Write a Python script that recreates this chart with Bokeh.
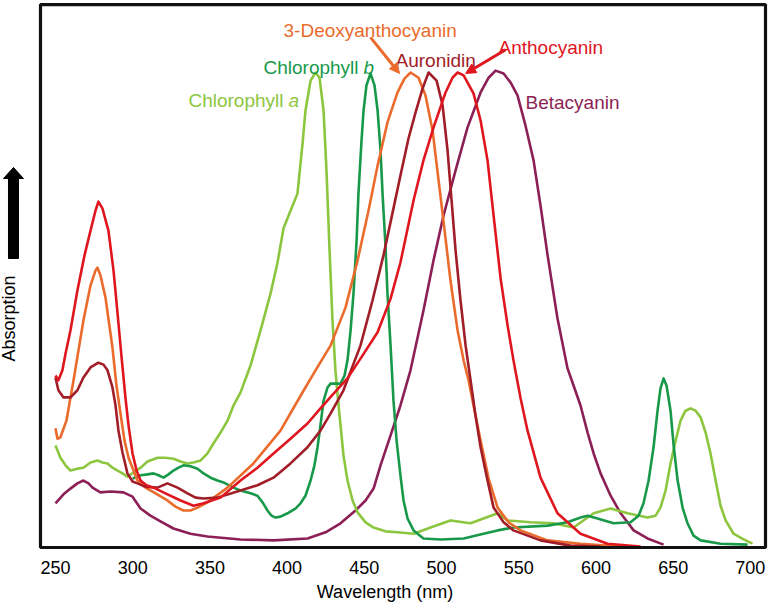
from bokeh.plotting import figure
from bokeh.models import Range1d, FixedTicker, Label, Arrow, NormalHead, BoxAnnotation
from bokeh.embed import file_html
from bokeh.resources import INLINE

# (wavelength nm, relative absorption; main peaks = 100)
CHL_A = [(250.0,21.5),(253.2,18.9),(256.5,17.3),(259.7,16.2),(264.2,16.6),(268.1,16.8),(272.7,17.9),(277.2,18.3),
         (280.4,17.9),(283.7,17.7),(286.9,16.8),(290.2,16.2),(293.4,15.6),(296.6,14.9),(300.5,15.8),(305.1,16.8),
         (309.6,18.1),(316.1,18.9),(321.2,18.9),(326.4,18.7),(331.0,18.1),(335.5,17.7),(339.4,17.9),(343.9,18.3),
         (348.4,19.8),(352.3,21.9),(356.9,24.2),(361.4,26.7),(365.3,29.9),(369.8,32.6),(376.3,38.3),(382.8,45.7),
         (389.3,53.5),(393.8,60.0),(397.7,67.2),(402.2,70.9),(406.7,74.5),(410.0,85.1),(411.9,92.0),(415.2,98.3),
         (418.4,100.0),(421.0,98.9),(423.6,92.0),(425.5,79.4),(427.5,62.5),(429.4,47.8),(431.3,37.3),(432.6,32.4),
         (434.6,25.7),(436.5,19.4),(439.1,14.1),(442.4,9.9),(445.6,7.4),(450.8,5.3),(456.0,4.2),(463.7,3.4),
         (471.5,3.2),(481.9,2.9),(492.9,4.2),(505.8,5.7),(518.8,5.1),(527.2,6.1),(536.3,7.2),(542.8,5.7),
         (557.7,5.3),(572.5,5.1),(585.5,4.2),(598.5,7.2),(609.5,8.2),(620.5,7.2),(633.4,6.3),(638.6,6.7),
         (641.8,8.4),(645.1,12.0),(648.3,17.7),(651.6,22.5),(654.8,26.7),(658.0,28.8),(661.3,29.3),(664.5,28.8),
         (667.8,27.4),(671.0,24.2),(674.2,19.8),(677.5,14.1),(680.7,8.8),(684.0,5.7),(689.1,2.9),(695.6,1.7),
         (701.4,0.8)]

CHL_B = [(299.9,14.5),(305.1,15.2),(309.6,15.4),(313.5,15.6),(316.7,15.2),(320.0,14.7),(323.2,15.4),(326.4,16.2),
         (329.7,16.8),(332.9,17.3),(337.4,17.1),(342.0,16.6),(345.9,15.6),(350.4,14.7),(354.9,14.1),(358.8,13.7),
         (365.3,12.6),(369.8,12.0),(376.3,11.4),(380.8,10.9),(384.1,9.5),(387.3,7.8),(389.9,6.7),(392.5,6.3),
         (395.7,6.5),(400.3,7.2),(405.4,8.2),(408.7,9.3),(411.9,10.9),(415.2,14.1),(417.7,17.3),(419.7,21.1),
         (421.6,25.7),(423.6,30.9),(426.2,33.7),(428.1,34.5),(431.3,34.5),(434.6,34.5),(437.2,36.2),(439.1,39.4),
         (441.1,45.7),(443.0,53.5),(445.0,64.6),(446.2,74.5),(448.2,85.7),(449.5,92.0),(451.4,97.3),(454.0,99.8),
         (456.6,97.3),(458.6,92.0),(460.5,83.6),(461.8,74.5),(463.7,63.6),(465.0,53.5),(467.0,42.5),(468.9,30.9),
         (470.9,22.5),(473.4,15.2),(475.4,9.9),(478.0,6.1),(481.9,3.6),(488.3,1.9),(499.4,1.7),(514.3,1.9),
         (527.2,2.9),(536.3,3.6),(546.6,4.2),(568.7,4.6),(581.6,5.3),(590.0,6.3),(594.6,6.7),(601.0,6.1),
         (611.4,5.1),(622.4,5.3),(627.6,6.7),(630.8,9.3),(634.1,14.1),(637.3,21.1),(639.9,28.8),(641.8,33.5),
         (643.8,35.6),(645.7,34.1),(648.3,28.8),(650.3,21.5),(652.9,14.1),(656.1,8.4),(659.3,5.1),(663.2,2.5),
         (667.8,1.5),(680.7,0.8),(698.2,0.6)]

DEOXY = [(250.0,25.1),(251.3,22.9),(253.2,23.2),(257.1,26.7),(261.7,35.2),(264.9,41.5),(268.1,47.8),(272.7,55.2),
         (275.9,58.3),(277.2,58.9),(279.1,57.3),(282.4,52.6),(286.9,42.1),(289.5,34.1),(292.1,28.2),(294.7,22.5),
         (297.3,18.9),(303.1,14.1),(308.3,12.6),(314.8,11.4),(322.5,9.9),(327.7,8.6),(332.9,7.8),(337.4,7.8),
         (342.0,8.4),(348.4,9.5),(361.4,12.6),(378.2,17.7),(395.7,24.6),(410.6,33.0),(418.4,37.3),(428.1,42.5),
         (437.8,50.5),(445.6,60.4),(452.7,70.9),(458.6,80.4),(465.0,89.5),(471.5,95.8),(476.0,98.7),(480.0,100.0),
         (485.1,98.9),(489.6,95.2),(494.2,87.8),(498.1,77.3),(502.0,66.7),(505.8,56.2),(510.4,45.7),(514.3,39.4),
         (517.5,35.2),(521.4,28.8),(525.3,22.5),(530.5,14.5),(536.3,8.4),(543.4,5.3),(551.2,3.6),(568.7,1.5),
         (590.0,0.8),(616.0,0.2)]

AURONIDIN = [(250.0,35.8),(251.9,33.1),(255.2,31.6),(259.7,31.6),(264.2,33.1),(268.1,35.8),(272.7,37.9),(277.8,38.9),
             (281.1,38.5),(283.7,37.3),(286.9,33.7),(288.9,29.9),(290.8,24.6),(293.4,20.0),(296.6,15.6),(299.9,13.9),
             (303.1,13.5),(308.3,12.8),(316.1,12.6),(322.5,13.5),(329.0,12.6),(335.5,11.4),(340.7,10.5),(345.9,10.3),
             (354.9,10.5),(369.8,12.0),(380.8,13.1),(391.2,14.7),(402.2,17.7),(413.2,21.1),(421.6,24.6),(428.1,28.2),
             (436.5,33.1),(447.5,42.5),(455.3,52.0),(462.4,61.5),(468.3,70.5),(473.4,78.3),(478.6,86.1),(483.2,91.6),
             (487.7,96.6),(491.6,100.0),(496.8,98.3),(500.7,93.1),(503.9,83.6),(506.5,73.1),(509.1,62.5),(512.3,52.0),
             (515.6,42.5),(518.8,35.2),(522.0,27.8),(525.3,21.1),(529.8,14.1),(533.7,8.4),(540.2,5.3),(546.6,3.6),
             (564.1,1.5),(583.5,0.4),(603.0,0.2)]

ANTHOCYANIN = [(250.0,36.2),(251.9,35.2),(254.5,37.3),(256.5,40.8),(259.7,45.7),(264.2,54.1),(268.8,61.5),(272.7,66.7),
               (275.9,70.9),(277.8,72.8),(280.4,71.4),(284.3,66.7),(287.6,58.3),(290.2,49.3),(292.7,40.4),(295.3,31.6),
               (297.3,25.7),(299.9,19.8),(302.5,16.2),(305.1,14.1),(308.9,13.1),(313.5,12.6),(321.2,11.4),(331.0,9.9),
               (339.4,8.8),(345.9,9.3),(356.9,10.5),(369.8,14.1),(380.8,16.8),(391.2,19.8),(402.2,22.9),(413.2,26.1),
               (421.6,29.3),(430.1,32.4),(439.1,35.6),(448.8,40.4),(458.6,45.3),(467.0,52.4),(473.4,60.0),(481.9,73.1),
               (488.3,81.5),(494.8,88.4),(502.6,95.8),(507.1,98.9),(510.4,100.0),(514.3,99.4),(520.7,95.6),(525.3,89.9),
               (529.8,81.5),(533.7,69.9),(538.2,56.8),(542.8,46.7),(546.6,39.4),(551.2,31.4),(555.7,24.6),(564.1,14.7),
               (575.1,7.2),(590.0,2.9),(607.5,0.8),(628.9,0.2)]

BETACYANIN = [(250.0,9.3),(255.2,11.2),(259.7,12.4),(264.2,13.5),(268.1,14.1),(271.4,13.5),(274.0,12.6),(279.1,11.6),
              (285.6,11.8),(294.0,11.6),(299.9,10.7),(305.1,8.2),(311.5,6.7),(318.0,5.5),(326.4,4.0),(337.4,2.9),
              (348.4,2.3),(369.8,1.7),(391.2,1.5),(413.2,1.9),(424.9,3.2),(434.6,5.1),(444.3,7.8),(450.8,9.9),
              (456.0,12.4),(460.5,17.3),(467.0,23.6),(473.4,29.9),(479.9,37.3),(488.3,49.9),(494.8,60.4),(501.3,69.9),
              (509.1,79.4),(516.8,88.4),(525.3,95.8),(530.5,98.9),(535.0,100.4),(540.2,99.8),(544.7,97.9),(549.2,95.2),
              (554.4,88.8),(559.6,81.5),(564.1,72.0),(568.7,61.5),(575.1,48.2),(581.6,37.7),(585.5,34.1),(590.0,29.9),
              (594.6,24.2),(598.5,19.8),(603.0,15.6),(609.5,10.9),(616.0,7.2),(624.4,3.6),(633.4,1.9),(643.8,0.6)]

X_TICKS = [250, 300, 350, 400, 450, 500, 550, 600, 650, 700]

# plot box (axis extent) in data units
BOX_X = (240.3, 709.8)
BOX_Y = (0.0, 114.3)

COLORS = {
    "chl_a": "#8cc63f",
    "chl_b": "#18994a",
    "deoxy": "#ea6b2c",
    "auron": "#a11d27",
    "antho": "#e0161f",
    "beta": "#8c1f55",
}

FONT = "Liberation Sans"

p = figure(width=769, height=606, x_range=Range1d(214.40, 712.39), y_range=Range1d(-0.421, 115.158),
           output_backend="svg", toolbar_location=None,
           min_border_left=0, min_border_right=0, min_border_top=0, min_border_bottom=57)
p.background_fill_color = "white"
p.border_fill_color = "white"
p.grid.visible = False
p.outline_line_color = None
p.yaxis.visible = False

ax = p.xaxis[0]
ax.ticker = FixedTicker(ticks=X_TICKS)
ax.axis_line_color = None
ax.major_tick_line_color = None
ax.minor_tick_line_color = None
ax.major_tick_out = 0
ax.major_tick_in = 0
ax.minor_tick_out = 0
ax.major_label_text_font = FONT
ax.major_label_text_font_size = "18px"
ax.major_label_text_color = "black"
ax.major_label_standoff = 11
ax.axis_label = "Wavelength (nm)"
ax.axis_label_text_font = FONT
ax.axis_label_text_font_size = "18px"
ax.axis_label_text_font_style = "normal"
ax.axis_label_text_color = "black"
ax.axis_label_standoff = 5

series = [
    (BETACYANIN, COLORS["beta"]),
    (CHL_A, COLORS["chl_a"]),
    (CHL_B, COLORS["chl_b"]),
    (DEOXY, COLORS["deoxy"]),
    (AURONIDIN, COLORS["auron"]),
    (ANTHOCYANIN, COLORS["antho"]),
]
for data, color in series:
    xs = [a for a, b in data]
    ys = [b for a, b in data]
    p.line(xs, ys, line_color=color, line_width=2.6, line_join="round")

# plot frame box
p.add_layout(BoxAnnotation(left=BOX_X[0], right=BOX_X[1], bottom=BOX_Y[0], top=BOX_Y[1],
                           fill_color=None, fill_alpha=0, line_color="#111111", line_alpha=1.0,
                           line_width=3.2))

def lab(x, y, text, color, style="normal"):
    p.add_layout(Label(x=x, y=y, text=text, text_color=color, text_font=FONT,
                       text_font_size="19px", text_font_style=style,
                       text_align="left", text_baseline="alphabetic"))

lab(336.1, 94.1, "Chlorophyll", COLORS["chl_a"])
lab(400.9, 94.1, "a", COLORS["chl_a"], "italic")
lab(384.7, 101.1, "Chlorophyll", COLORS["chl_b"])
lab(449.5, 101.1, "b", COLORS["chl_b"], "italic")
lab(397.7, 108.8, "3-Deoxyanthocyanin", COLORS["deoxy"])
lab(470.2, 102.5, "Auronidin", COLORS["auron"])
lab(536.9, 105.3, "Anthocyanin", COLORS["antho"])
lab(554.4, 93.7, "Betacyanin", COLORS["beta"])

p.add_layout(Arrow(end=NormalHead(size=10, fill_color=COLORS["deoxy"], line_color=COLORS["deoxy"]),
                   x_start=454.0, y_start=107.4, x_end=472.8, y_end=99.8,
                   line_color=COLORS["deoxy"], line_width=3))
p.add_layout(Arrow(end=NormalHead(size=10, fill_color=COLORS["antho"], line_color=COLORS["antho"]),
                   x_start=541.5, y_start=104.8, x_end=515.6, y_end=99.8,
                   line_color=COLORS["antho"], line_width=3))

# "Absorption" indicator arrow on the left (outline of a block arrow)
ARROW_X = [219.58, 226.06, 226.06, 229.29, 222.82, 216.34, 219.58]
ARROW_Y = [60.84, 60.84, 77.68, 77.68, 80.0, 77.68, 77.68]
p.patch(ARROW_X, ARROW_Y, fill_color="black", line_color="black", line_width=1)
p.add_layout(Label(x=219.9, y=48.21, text="Absorption", angle=1.5708, text_font=FONT,
                   text_font_size="18px", text_color="black",
                   text_align="center", text_baseline="middle"))

open("out.html", "w").write(file_html(p, INLINE))
